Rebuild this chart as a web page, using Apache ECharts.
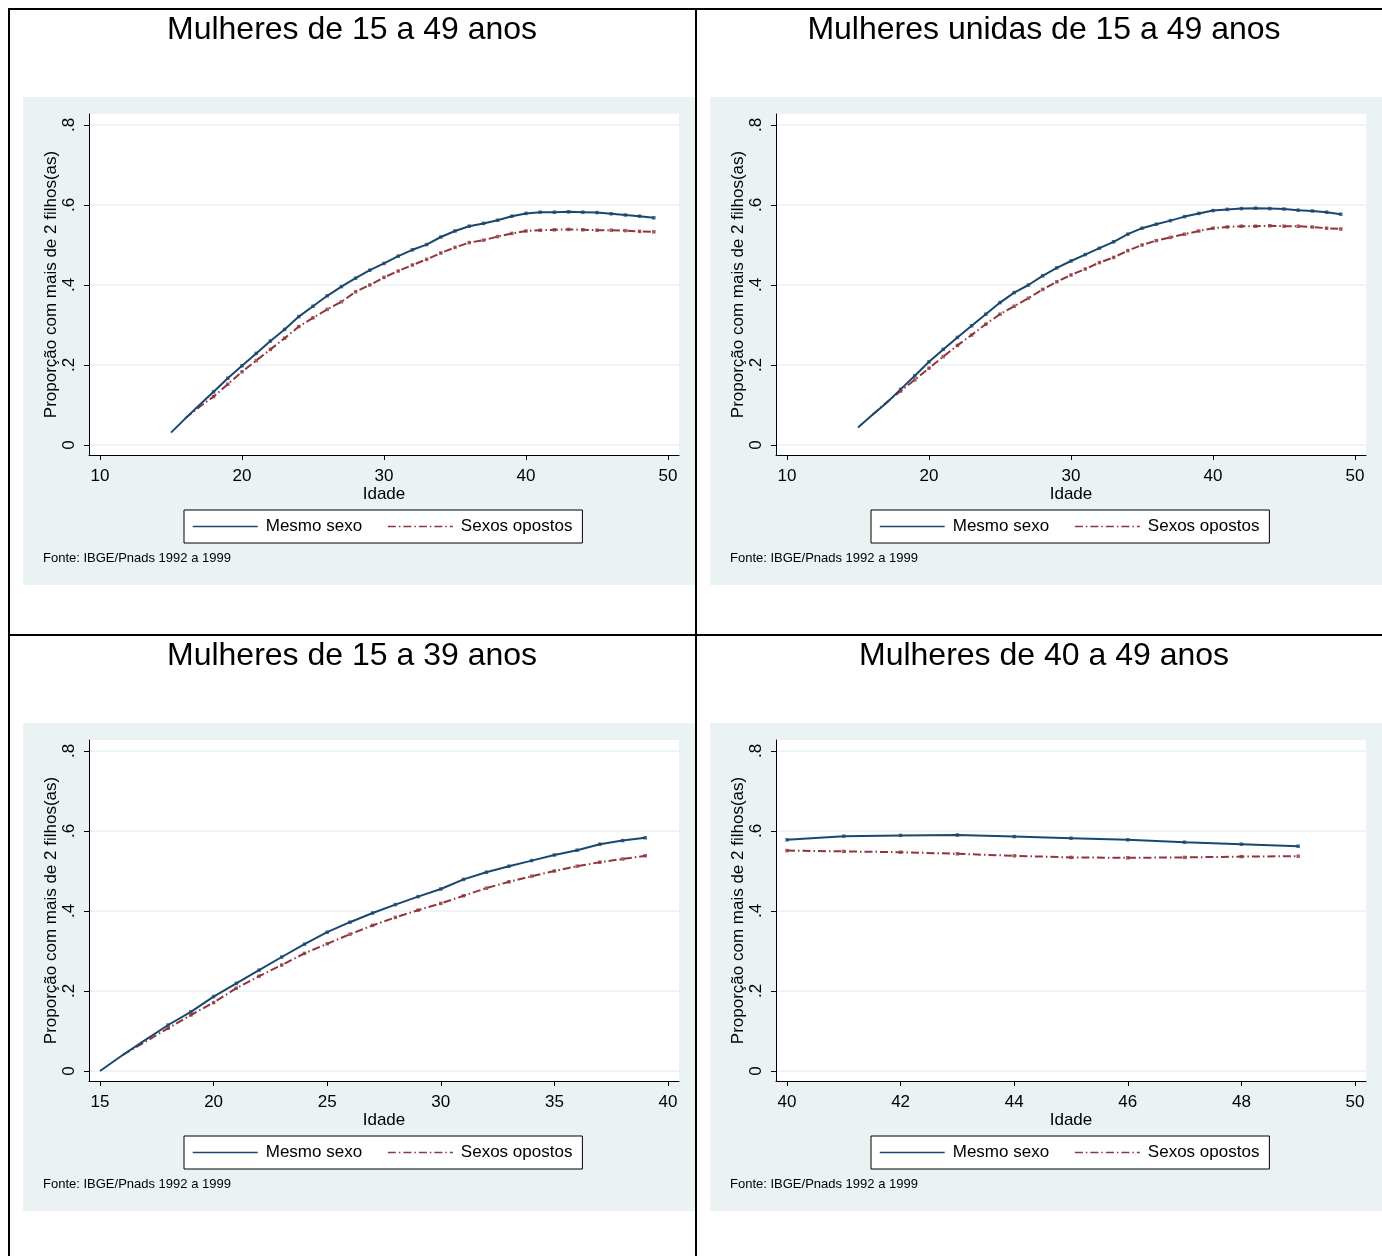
<!DOCTYPE html>
<html>
<head>
<meta charset="utf-8">
<script src="https://cdn.jsdelivr.net/npm/echarts@6/dist/echarts.min.js"></script>
<style>
  html, body { margin: 0; padding: 0; background: #fff; }
  #grafico { width: 1382px; height: 1256px; }
</style>
</head>
<body>
<div id="grafico"></div>
<script>
// Proporção de mulheres com mais de 2 filhos(as), segundo o sexo dos dois primeiros filhos
const titulos = [
  'Mulheres de 15 a 49 anos',
  'Mulheres unidas de 15 a 49 anos',
  'Mulheres de 15 a 39 anos',
  'Mulheres de 40 a 49 anos'
];
const nomeMesmo = 'Mesmo sexo';
const nomeOpostos = 'Sexos opostos';
const rotuloX = 'Idade';
const rotuloY = 'Proporção com mais de 2 filhos(as)';
const fonte = 'Fonte: IBGE/Pnads 1992 a 1999';

const idades15a49 = [15,16,17,18,19,20,21,22,23,24,25,26,27,28,29,30,31,32,33,34,35,36,37,38,39,40,41,42,43,44,45,46,47,48,49];
const idades15a39 = [15,16,17,18,19,20,21,22,23,24,25,26,27,28,29,30,31,32,33,34,35,36,37,38,39];
const idades40a49 = [40,41,42,43,44,45,46,47,48,49];

// Mulheres de 15 a 49 anos
const mesmo1 = [.031,.066,.100,.133,.167,.198,.229,.260,.289,.321,.347,.373,.396,.417,.437,.454,.472,.488,.501,.520,.535,.547,.554,.562,.572,.579,.582,.582,.583,.582,.581,.578,.575,.572,.568];
const opostos1 = [null,.067,.095,.121,.152,.183,.211,.239,.267,.296,.318,.339,.358,.383,.400,.419,.435,.450,.464,.480,.494,.506,.512,.521,.529,.535,.537,.538,.539,.538,.537,.537,.536,.534,.533];
// Mulheres unidas de 15 a 49 anos
const mesmo2 = [.044,.075,.105,.139,.173,.208,.239,.269,.298,.327,.356,.381,.400,.423,.443,.460,.476,.492,.508,.527,.542,.552,.561,.571,.579,.586,.589,.591,.592,.591,.590,.587,.585,.582,.577];
const opostos2 = [null,.075,.106,.135,.163,.192,.221,.249,.275,.302,.327,.347,.367,.389,.408,.425,.440,.456,.469,.486,.500,.511,.519,.527,.535,.542,.545,.547,.547,.548,.547,.547,.545,.542,.540];
// Mulheres de 15 a 39 anos
const mesmo3 = [.000,.040,.078,.115,.148,.186,.219,.252,.285,.317,.347,.372,.395,.416,.436,.455,.479,.497,.512,.526,.540,.552,.567,.576,.583];
const opostos3 = [null,.040,.073,.107,.140,.171,.207,.237,.265,.294,.318,.342,.364,.384,.402,.419,.438,.457,.473,.487,.500,.512,.522,.530,.538];
// Mulheres de 40 a 49 anos
const mesmo4 = [.578,.587,.589,.590,.586,.582,.578,.572,.567,.562];
const opostos4 = [.551,.549,.547,.543,.538,.534,.533,.534,.536,.537];

const ticksX1549 = [10,20,30,40,50];
const ticksX1539 = [15,20,25,30,35,40];
const ticksX4049 = [40,42,44,46,48,50];
const ticksY = [0,0.2,0.4,0.6,0.8];
// markers are drawn from this age on
const idadeInicioMarcadores = 18;

const AZUL = '#1a476f';
const VERMELHO = '#90353b';
const FUNDO = '#eaf2f3';
const FONTE_TXT = '"Liberation Sans", Arial, sans-serif';
const TRACO_PONTO = [8, 3, 1.5, 3];

const paineis = [
  { titulo: titulos[0], idades: idades15a49, mesmo: mesmo1, opostos: opostos1, ticksX: ticksX1549, ox: 9,   oy: 9,   cx: 352 },
  { titulo: titulos[1], idades: idades15a49, mesmo: mesmo2, opostos: opostos2, ticksX: ticksX1549, ox: 696, oy: 9,   cx: 1044 },
  { titulo: titulos[2], idades: idades15a39, mesmo: mesmo3, opostos: opostos3, ticksX: ticksX1539, ox: 9,   oy: 635, cx: 352 },
  { titulo: titulos[3], idades: idades40a49, mesmo: mesmo4, opostos: opostos4, ticksX: ticksX4049, ox: 696, oy: 635, cx: 1044, marcaTudo: true }
];

function pares(idades, valores) {
  const out = [];
  idades.forEach((a, k) => { if (valores[k] !== null) out.push([a, valores[k]]); });
  return out;
}

function rotuloProp(v) {
  if (v === 0) return '0';
  return String(Math.round(v * 10) / 10).replace(/^0\./, '.');
}

const option = {
  animation: false,
  backgroundColor: '#fff',
  title: [],
  grid: [],
  xAxis: [],
  yAxis: [],
  legend: [],
  series: [],
  graphic: { elements: [] }
};

paineis.forEach((p, i) => {
  const ox = p.ox, oy = p.oy;

  // panel background
  option.graphic.elements.push({
    type: 'rect', silent: true, z: -10,
    shape: { x: ox + 14, y: oy + 88, width: 672, height: 488 },
    style: { fill: FUNDO }
  });

  option.title.push({
    text: p.titulo, left: p.cx, top: oy + 5, textAlign: 'center', padding: 0,
    textStyle: { fontSize: 32, fontWeight: 'normal', color: '#000', fontFamily: FONTE_TXT }
  });
  option.title.push({
    text: fonte, left: ox + 34, top: oy + 543, padding: 0,
    textStyle: { fontSize: 13, fontWeight: 'normal', color: '#000', fontFamily: FONTE_TXT }
  });

  option.grid.push({
    left: ox + 80, top: oy + 105, width: 590, height: 341,
    show: true, backgroundColor: '#fff', borderWidth: 0,
    containLabel: false, outerBoundsMode: 'none'
  });

  const t0 = p.ticksX[0], tN = p.ticksX[p.ticksX.length - 1];
  const folga = (tN - t0) * 11 / 568;
  option.xAxis.push({
    type: 'value', gridIndex: i, min: t0 - folga, max: tN + folga,
    axisLine: { show: true, onZero: false, lineStyle: { color: '#000', width: 1 } },
    axisTick: { show: true, length: 5, customValues: p.ticksX, lineStyle: { color: '#000', width: 1 } },
    axisLabel: { show: true, customValues: p.ticksX, margin: 13, fontSize: 17, color: '#000', fontFamily: FONTE_TXT },
    splitLine: { show: false },
    name: rotuloX, nameLocation: 'middle', nameGap: 30,
    nameTextStyle: { fontSize: 17, color: '#000', fontFamily: FONTE_TXT }
  });

  option.yAxis.push({
    type: 'value', gridIndex: i, min: -0.025, max: 0.8275,
    axisLine: { show: true, onZero: false, lineStyle: { color: '#000', width: 1 } },
    axisTick: { show: true, length: 5, customValues: ticksY, lineStyle: { color: '#000', width: 1 } },
    axisLabel: { show: true, customValues: ticksY, rotate: 90, margin: 11, fontSize: 17, color: '#000', fontFamily: FONTE_TXT, formatter: rotuloProp },
    splitLine: { show: true, lineStyle: { color: FUNDO, width: 1.5 } },
    name: rotuloY, nameLocation: 'middle', nameGap: 29, nameRotate: 90,
    nameTextStyle: { fontSize: 17, color: '#000', fontFamily: FONTE_TXT }
  });

  option.legend.push({
    data: [nomeMesmo, nomeOpostos],
    left: ox + 175, top: oy + 501,
    orient: 'horizontal',
    itemWidth: 65, itemHeight: 14, itemGap: 25,
    padding: [8, 10, 8, 8],
    borderColor: '#000', borderWidth: 1, backgroundColor: '#fff',
    selectedMode: false,
    itemStyle: { opacity: 0, borderWidth: 0 },
    lineStyle: { width: 1.5 },
    textStyle: { fontSize: 17, color: '#000', fontFamily: FONTE_TXT, padding: [0, 0, 0, 3] }
  });

  const linhaMesmo = pares(p.idades, p.mesmo);
  const linhaOpostos = pares(p.idades, p.opostos);
  const inicio = p.marcaTudo ? -Infinity : idadeInicioMarcadores;

  option.series.push({
    name: nomeMesmo, type: 'line', xAxisIndex: i, yAxisIndex: i,
    data: linhaMesmo, symbol: 'none', showSymbol: false, smooth: false, silent: true, z: 3,
    lineStyle: { color: AZUL, width: 2, type: 'solid' }, itemStyle: { color: AZUL },
    emphasis: { disabled: true }
  });
  option.series.push({
    name: nomeOpostos, type: 'line', xAxisIndex: i, yAxisIndex: i,
    data: linhaOpostos, symbol: 'none', showSymbol: false, smooth: false, silent: true, z: 2,
    lineStyle: { color: VERMELHO, width: 2, type: TRACO_PONTO }, itemStyle: { color: VERMELHO },
    emphasis: { disabled: true }
  });
  option.series.push({
    name: nomeMesmo + ' (pontos)', type: 'scatter', xAxisIndex: i, yAxisIndex: i,
    data: linhaMesmo.filter(d => d[0] >= inicio), symbol: 'rect', symbolSize: 3.5, silent: true, z: 4,
    itemStyle: { color: AZUL }, emphasis: { disabled: true }
  });
  option.series.push({
    name: nomeOpostos + ' (pontos)', type: 'scatter', xAxisIndex: i, yAxisIndex: i,
    data: linhaOpostos.filter(d => d[0] >= inicio), symbol: 'rect', symbolSize: 3.5, silent: true, z: 4,
    itemStyle: { color: VERMELHO }, emphasis: { disabled: true }
  });
});

// cell borders
const bordas = [
  [8, 9, 1382, 9],
  [9, 8, 9, 1256],
  [696, 8, 696, 1256],
  [8, 635, 1382, 635]
];
bordas.forEach(b => {
  option.graphic.elements.push({
    type: 'line', silent: true, z: 100,
    shape: { x1: b[0], y1: b[1], x2: b[2], y2: b[3] },
    style: { stroke: '#000', lineWidth: 2 }
  });
});

const chart = echarts.init(document.getElementById('grafico'), null, { renderer: 'canvas' });
chart.setOption(option);
</script>
</body>
</html>
